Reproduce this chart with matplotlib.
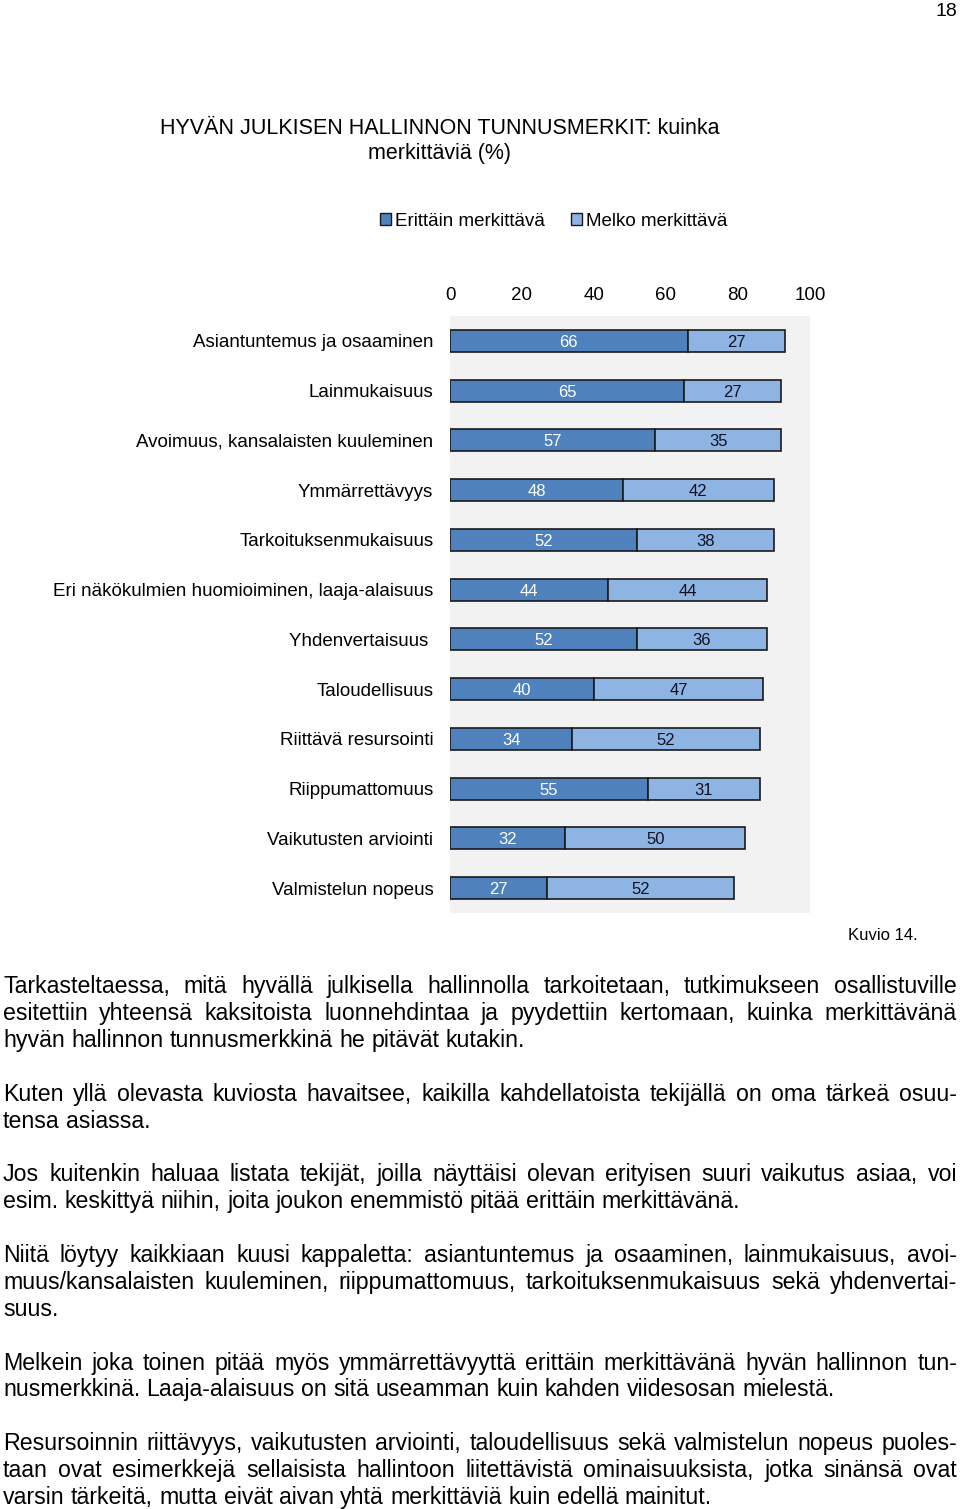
import matplotlib
matplotlib.use("Agg")
import numpy as np
from matplotlib import pyplot as plt
from matplotlib.patches import Patch

plt.rcParams['font.family'] = ['Liberation Sans', 'DejaVu Sans']

# chart data
categories = ['Asiantuntemus ja osaaminen', 'Lainmukaisuus',
              'Avoimuus, kansalaisten kuuleminen', 'Ymmärrettävyys',
              'Tarkoituksenmukaisuus',
              'Eri näkökulmien huomioiminen, laaja-alaisuus',
              'Yhdenvertaisuus ', 'Taloudellisuus', 'Riittävä resursointi',
              'Riippumattomuus', 'Vaikutusten arviointi', 'Valmistelun nopeus']
erittain = [66, 65, 57, 48, 52, 44, 52, 40, 34, 55, 32, 27]
melko = [27, 27, 35, 42, 38, 44, 36, 47, 52, 31, 50, 52]
series_names = ['Erittäin merkittävä', 'Melko merkittävä']
ticks = [0, 20, 40, 60, 80, 100]

title = 'HYVÄN JULKISEN HALLINNON TUNNUSMERKIT: kuinka\nmerkittäviä (%)'

# body text, one list per paragraph, lines as in the page
paragraphs = [
    ['Tarkasteltaessa, mitä hyvällä julkisella hallinnolla tarkoitetaan, tutkimukseen osallistuville',
     'esitettiin yhteensä kaksitoista luonnehdintaa ja pyydettiin kertomaan, kuinka merkittävänä',
     'hyvän hallinnon tunnusmerkkinä he pitävät kutakin.'],
    ['Kuten yllä olevasta kuviosta havaitsee, kaikilla kahdellatoista tekijällä on oma tärkeä osuu-',
     'tensa asiassa.'],
    ['Jos kuitenkin haluaa listata tekijät, joilla näyttäisi olevan erityisen suuri vaikutus asiaa, voi',
     'esim. keskittyä niihin, joita joukon enemmistö pitää erittäin merkittävänä.'],
    ['Niitä löytyy kaikkiaan kuusi kappaletta: asiantuntemus ja osaaminen, lainmukaisuus, avoi-',
     'muus/kansalaisten kuuleminen, riippumattomuus, tarkoituksenmukaisuus sekä yhdenvertai-',
     'suus.'],
    ['Melkein joka toinen pitää myös ymmärrettävyyttä erittäin merkittävänä hyvän hallinnon tun-',
     'nusmerkkinä. Laaja-alaisuus on sitä useamman kuin kahden viidesosan mielestä.'],
    ['Resursoinnin riittävyys, vaikutusten arviointi, taloudellisuus sekä valmistelun nopeus puoles-',
     'taan ovat esimerkkejä sellaisista hallintoon liitettävistä ominaisuuksista, jotka sinänsä ovat',
     'varsin tärkeitä, mutta eivät aivan yhtä merkittäviä kuin edellä mainitut.'],
]

W, H = 960, 1509
dark = '#4F81BD'
light = '#8EB4E3'

fig = plt.figure(figsize=(W / 100, H / 100), dpi=100)
fig.patch.set_facecolor('white')

ax = fig.add_axes([450 / W, 1 - 913 / H, 360 / W, 597 / H])
ax.set_facecolor('#F2F2F2')
y = np.arange(len(categories))
ax.barh(y, erittain, height=0.44, color=dark, edgecolor='#1a1a1a', lw=1.2)
ax.barh(y, melko, left=erittain, height=0.44, color=light, edgecolor='#1a1a1a', lw=1.2)
for i in range(len(categories)):
    ax.text(erittain[i] / 2, y[i], str(erittain[i]), ha='center', va='center_baseline',
            color='white', fontsize=12)
    ax.text(erittain[i] + melko[i] / 2, y[i], str(melko[i]), ha='center',
            va='center_baseline', color='#111122', fontsize=12)

ax.set_xlim(0, 100)
ax.set_ylim(len(categories) - 0.5, -0.5)
ax.set_xticks(ticks)
ax.set_yticks(y)
ax.set_yticklabels(categories)
ax.xaxis.set_ticks_position('top')
ax.tick_params(axis='x', length=0, pad=9, labelsize=13.5)
ax.tick_params(axis='y', length=0, pad=12, labelsize=13.5)
for s in ax.spines.values():
    s.set_visible(False)

fig.text(440 / W, 1 - 141 / H, title, ha='center', va='center', fontsize=15.5,
         linespacing=1.3)

handles = [Patch(facecolor=dark, edgecolor='#1a1a1a'),
           Patch(facecolor=light, edgecolor='#1a1a1a')]
fig.legend(handles, series_names, loc='center', bbox_to_anchor=(554 / W, 1 - 221 / H),
           ncol=2, frameon=False, fontsize=13.5, handlelength=0.55, handleheight=0.55,
           handletextpad=0.25, columnspacing=1.4)

fig.text(957 / W, 1 - 12 / H, '18', ha='right', va='center', fontsize=14)
fig.text(918 / W, 1 - 935 / H, 'Kuvio 14.', ha='right', va='center', fontsize=12)

# justified body text
renderer = fig.canvas.get_renderer()
fs = 16.7
x0, x1 = 3, 957
base0 = 993
lh = 26.9


def word_width(w):
    t = fig.text(0, 0, w, fontsize=fs)
    wd = t.get_window_extent(renderer).width
    t.remove()
    return wd


space = word_width('a a') - word_width('aa')
row = 0
for lines in paragraphs:
    for k, line in enumerate(lines):
        words = line.split(' ')
        widths = [word_width(w) for w in words]
        last = k == len(lines) - 1
        if last or len(words) == 1:
            gap = space
        else:
            gap = (x1 - x0 - sum(widths)) / (len(words) - 1)
        xb = x0
        yb = round(base0 + row * lh)
        for w, wd in zip(words, widths):
            fig.text(xb / W, 1 - yb / H, w, fontsize=fs, va='baseline', ha='left')
            xb += wd + gap
        row += 1
    row += 1  # blank line between paragraphs

fig.savefig('out.png', dpi=100, facecolor='white')
